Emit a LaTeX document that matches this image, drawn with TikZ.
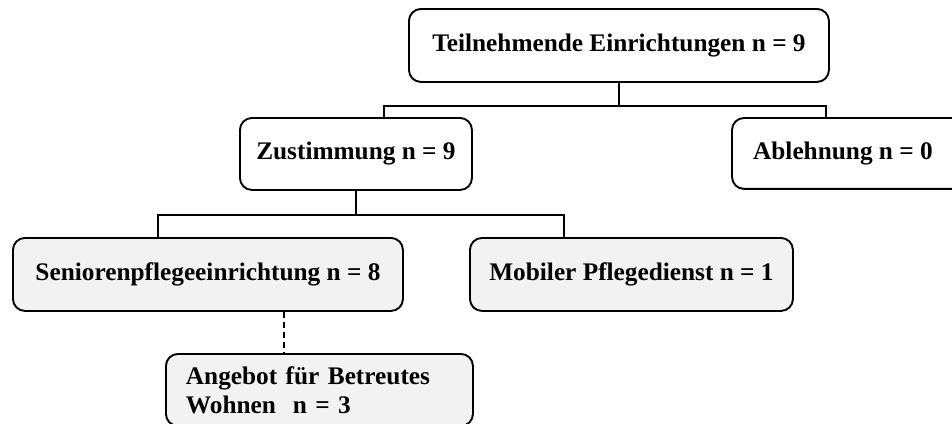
\documentclass[tikz,border=0pt]{standalone}
\usepackage{fontspec}
\setmainfont{Liberation Serif}
\usetikzlibrary{calc}
\definecolor{boxgrey}{RGB}{242,242,242}
\tikzset{
  box/.style={draw=black, line width=1.9pt, rounded corners=12pt, fill=white,
    font=\fontsize{25.3}{29}\selectfont\bfseries, inner sep=0pt, anchor=north west},
  greybox/.style={box, fill=boxgrey},
  conn/.style={line width=1.9pt},
  dashconn/.style={line width=1.9pt, dash pattern=on 6pt off 4pt}
}
\begin{document}
\begin{tikzpicture}[x=1pt, y=-1pt]
\useasboundingbox (0,0) rectangle (952,423);
\node[box, minimum width=420pt, minimum height=73pt] (top) at (408,8) {Teilnehmende Einrichtungen n = 9};
\node[box, minimum width=232pt, minimum height=72pt] (zust) at (239,117) {Zustimmung n = 9};
\node[box, draw=none, fill=none, minimum width=220pt, minimum height=69pt] (abl) at (732,118) {Ablehnung n = 0};
\draw[line width=1.9pt, rounded corners=12pt] (abl.north west) rectangle ([xshift=20pt]abl.south east);
\node[greybox, minimum width=390pt, minimum height=73pt] (sen) at (12,237) {Seniorenpflegeeinrichtung n = 8};
\node[greybox, minimum width=323pt, minimum height=73pt] (mob) at (469,237) {Mobiler Pflegedienst n = 1};
\node[greybox, minimum width=307pt, minimum height=72pt, text width=267pt, align=left, inner xsep=20pt] (ang) at (165,353) {Angebot für Betreutes\\Wohnen~~n = 3};
% connectors
\coordinate (j1) at ($(top.south)+(0,23)$);
\draw[conn] (top.south) -- (j1);
\draw[conn] ([xshift=28pt]zust.north) |- (j1) -| ([xshift=-17pt]abl.north);
\coordinate (j2) at ($(zust.south)+(0,24)$);
\draw[conn] (zust.south) -- (j2);
\draw[conn] ([xshift=-50pt]sen.north) |- (j2) -| ([xshift=-67.5pt]mob.north);
\draw[dashconn] ([xshift=76pt]sen.south) -- ([xshift=76pt]sen.south |- ang.north);
\end{tikzpicture}
\end{document}
